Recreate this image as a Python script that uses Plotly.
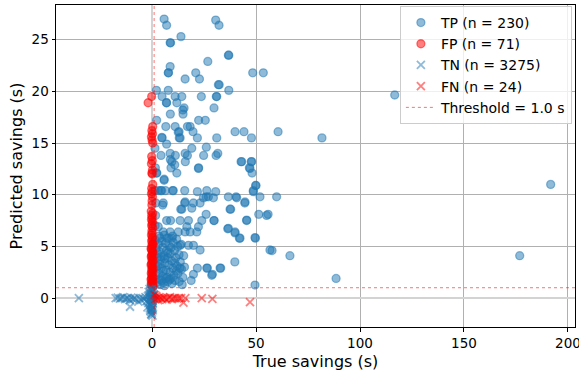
import plotly.graph_objects as go

# ---------------- data ----------------
threshold = 1.0
legend_labels = ["TP (n = 230)", "FP (n = 71)", "TN (n = 3275)", "FN (n = 24)",
                 "Threshold = 1.0 s"]
x_ticks = [0, 50, 100, 150, 200]
y_ticks = [0, 5, 10, 15, 20, 25]
x_range = [-46.2, 203.4]
y_range = [-2.8, 28.36]

# True positives (true savings, predicted savings)
tp_x = [5.8, 7.0, 30.6, 32.2, 13.9, 8.7, 8.9, 36.9, 36.7, 26.8, 8.7, 7.8, 7.9, 48.4, 53.5,
        21.0, 15.9, 22.8, 31.9, 32.3, 36.9, 2.1, 7.8, 4.8, 11.1, 14.3, 23.7, 30.9, 31.1,
        6.9, 7.0, 11.9, 15.4, 29.8, 8.8, 14.9, 2.2, 22.4, 25.6, 6.6, 11.1, 17.0, 18.3,
        13.0, 19.7, 39.9, 44.2, 60.6, 4.8, 13.1, 21.8, 31.1, 47.8, 81.7, 7.0, 4.3, 8.7,
        11.2, 15.9, 17.0, 19.1, 24.8, 26.1, 30.8, 31.6, 8.8, 9.5, 16.0, 10.9, 42.8, 47.7,
        9.1, 1.6, 22.4, 46.8, 11.9, 48.1, 2.1, 5.8, 14.8, 12.6, 13.5, 4.7, 116.7,
        49.8, 4.2, 6.4, 9.9, 15.7, 21.8, 26.0, 30.6, 48.7, 51.9, 59.9, 36.7, 40.4, 1.8,
        5.4, 15.7, 19.9, 27.1, 13.8, 23.1, 37.8, 44.6, 45.5, 51.3, 55.8, 26.0, 29.8, 36.4,
        39.9, 42.0, 49.7, 57.7, 66.3, 39.8, 33.0, 26.6, 21.8, 29.0, 19.9, 18.8, 49.5, 88.5,
        176.8, 191.7, 3.0, 4.6, 10.2, 22.3, 26.3, 50.0, 48.7, 5.8, 43.1, 47.9, 47.1,
        5.1, 15.9, 24.7, 29.5, 40.7, 14.3, 19.1, 37.5, 44.7, 7.0, 8.9, 13.5, 17.5, 23.9,
        29.8, 45.5, 55.1, 3.0, 16.7, 22.3, 5.4, 8.7, 12.6, 15.9, 18.3, 21.5, 36.7, 39.9,
        42.3, 49.5, 3.8, 7.1, 9.5, 13.5, 17.5, 19.9, 23.1, 56.7, 26.3, 28.7, 32.7,
        1.5, 2.0, 2.4, 2.8, 3.2, 3.6, 4.0, 1.8, 2.2, 3.0, 3.5, 4.1, 4.5, 5.0, 5.5, 6.0,
        4.8, 5.2, 5.8, 6.3, 6.8, 7.2, 7.6, 6.5, 7.0, 7.5, 8.1, 8.6, 9.1, 9.6, 8.3, 8.8,
        9.4, 10.0, 10.5, 11.0, 10.2, 10.8, 11.4, 12.0, 12.5, 13.1, 12.3, 13.0, 13.6,
        14.2, 14.8, 3.3, 5.9, 7.9, 9.9, 11.8, 14.0, 2.6, 4.3, 6.1, 7.7, 9.2, 10.9, 5.4,
        3.9, 8.4, 6.6, 4.7, 11.6, 13.4, 15.2, 15.6, 14.5, 1.7, 1.5, 1.3, 1.4, 1.9, 2.3]
tp_y = [27.0, 26.4, 26.9, 26.4, 25.3, 24.7, 24.7, 23.5, 23.5, 22.9, 22.4, 21.8, 21.8, 21.8,
        21.8, 21.8, 21.2, 21.2, 20.65, 20.65, 20.1, 20.1, 20.1, 19.5, 19.5, 19.5, 19.5,
        19.5, 19.5, 18.9, 18.9, 18.9, 18.4, 18.4, 17.8, 17.8, 17.2, 17.2, 17.2, 16.6,
        16.6, 16.6, 16.6, 16.1, 16.1, 16.1, 16.1, 16.1, 15.5, 15.5, 15.5, 15.5, 15.5, 15.5,
        14.9, 13.8, 14.0, 13.8, 14.0, 13.8, 14.5, 13.8, 14.6, 13.8, 14.0, 13.4, 13.2, 13.2,
        12.9, 13.2, 13.2, 12.6, 12.6, 12.6, 12.6, 12.1, 12.1, 12.1, 11.4, 18.2, 16.05,
        15.5, 15.55, 19.65,
        10.9, 10.4, 10.4, 10.4, 10.4, 10.3, 9.8, 10.3, 10.4, 9.8, 9.8, 9.8, 9.8, 9.2,
        9.2, 9.2, 9.2, 9.8, 8.6, 9.2, 8.6, 9.2, 7.5, 8.1, 8.1, 8.1, 7.5, 6.7,
        6.3, 5.8, 5.8, 4.6, 4.1, 3.5, 2.9, 2.9, 2.9, 2.3, 2.3, 1.7, 1.26, 1.9,
        4.1, 11.0, 10.4, 10.4, 10.4, 12.55, 10.4, 10.9, 10.3, 11.5, 13.2, 13.2, 12.55,
        9.0, 9.3, 9.7, 9.7, 9.7, 8.6, 8.7, 8.6, 9.3, 7.5, 7.5, 7.5, 7.5, 7.5,
        7.5, 7.55, 8.0, 6.9, 6.9, 6.9, 6.4, 6.4, 6.4, 6.4, 6.4, 6.4, 6.75, 6.4,
        5.8, 5.85, 5.8, 5.8, 5.8, 5.1, 5.1, 5.1, 4.65, 4.65, 2.9, 2.2, 2.9,
        5.6, 4.8, 3.9, 3.1, 2.4, 1.8, 1.3, 2.2, 1.5, 5.2, 4.5, 3.7, 2.9, 2.1, 1.5, 1.2,
        5.5, 4.9, 4.1, 3.4, 2.7, 2.0, 1.6, 5.3, 4.6, 3.9, 3.2, 2.5, 1.9, 1.4, 5.0, 4.3,
        3.6, 2.9, 2.2, 1.7, 5.4, 4.6, 3.9, 3.1, 2.4, 1.6, 5.0, 4.2, 3.5,
        2.8, 2.0, 6.0, 6.1, 5.8, 6.0, 5.7, 5.2, 4.3, 4.0, 3.8, 4.4, 4.9, 3.4, 2.6,
        3.3, 1.8, 1.9, 1.7, 2.6, 2.9, 4.1, 3.0, 1.3, 8.0, 7.0, 10.4, 14.5, 3.0, 12.1]

# False positives
fp_x = [-0.2, -1.9, 0.3, -0.1, 0.2, -0.3, 0.0, 0.3, -0.2, 0.1, -0.3, 0.2, -0.1, 0.3,
        -0.2, 0.1, -0.3, 0.2, 0.0, -0.1, 0.3, -0.2, 0.1, -0.3, 0.2, 0.0, -0.2, 0.3,
        -0.1, 0.1, -0.3, 0.2, 0.0, -0.2, 0.3, -0.1, 0.1, -0.3, 0.2, 0.0, -0.2, 0.3,
        -0.1, 0.1, -0.3, 0.2, 0.0, -0.2, 0.3, -0.1, 0.1, -0.3, 0.2, 0.0, -0.2, 0.3,
        0.5, -0.4, 0.4, -0.5, 0.5, -0.4, 0.4, -0.5, 0.5, -0.4, 0.4, -0.5, 0.5, -0.4, 0.1]
fp_y = [19.5, 18.9, 16.6, 16.2, 15.9, 15.6, 15.3, 15.0, 13.7, 13.3, 13.0, 12.4, 12.1,
        11.0, 10.6, 10.3, 10.1, 9.8, 9.4, 9.0, 8.2, 8.0, 7.8, 7.6, 7.4, 7.2, 7.0, 6.8,
        6.5, 6.3, 6.1, 5.9, 5.7, 5.5, 5.3, 5.1, 4.9, 4.7, 4.5, 4.3, 4.1, 3.9, 3.7, 3.5,
        3.3, 3.1, 2.9, 2.7, 2.5, 2.3, 2.1, 1.9, 1.7, 1.5, 1.3, 1.1,
        1.2, 1.4, 1.6, 1.8, 2.0, 2.4, 2.8, 3.2, 3.6, 4.0, 4.4, 4.8, 5.2, 8.4, 12.0]

# True negatives
tn_x = [-35.2, -17.5, -16.5, -15.5, -14.8, -13.9, -13.0, -12.2, -11.5, -10.8, -10.6,
        -10.0, -9.2, -8.5, -7.8, -6.6, -6.0, -5.2, -4.5, -3.8, -3.2, -2.6,
        -1.2, -0.5, 0.3, -0.9, 0.0, 0.6, -1.4, -0.3, 0.4, -1.0, -0.2, 0.5, -0.7, 0.2,
        -1.3, -0.4, 0.3, -0.9, 0.0, -0.6, 0.4, -1.1, -0.2, 0.3, -0.7, 0.0, -0.4, 0.2,
        -0.9, 0.1, -0.5, 0.7, -0.1, 0.8, 0.9, -2.0, -1.8, -2.2, -1.6, -0.3, 0.1, -0.8]
tn_y = [0.0, 0.0, 0.05, -0.05, 0.0, 0.1, -0.1, 0.0, 0.0, -0.2, -0.84,
        0.05, -0.1, 0.0, -0.1, -0.35, 0.0, -0.2, 0.0, -0.1, 0.1, -0.3,
        0.9, 0.8, 0.7, 0.6, 0.5, 0.4, 0.3, 0.3, 0.2, 0.1, 0.0, 0.0, -0.1, -0.2,
        -0.3, -0.4, -0.5, -0.6, -0.7, -0.8, -0.9, -1.0, -1.1, -1.2, -1.3, -1.4, -1.55, -1.7,
        -1.2, -0.3, 0.15, 0.65, 0.9, -0.1, 0.3, 0.2, -0.5, -0.9, 0.6, -1.6, -1.0, 0.4]

# False negatives
fn_x = [1.2, 1.6, 2.0, 2.5, 3.0, 3.6, 4.2, 4.9, 5.5, 6.3, 7.0, 7.8, 8.6, 9.5, 10.3,
        11.2, 12.1, 13.0, 14.0, 15.1, 16.0, 23.9, 29.0, 47.1]
fn_y = [0.3, -0.1, 0.2, 0.0, -0.2, 0.1, 0.0, -0.1, 0.05, 0.0, -0.15, 0.0, 0.1, -0.1,
        0.0, 0.0, -0.05, 0.0, 0.0, -0.45, 0.0, 0.0, -0.07, -0.4]

# ---------------- figure ----------------
BLUE_F = "rgba(31,119,180,0.5)"
RED_F = "rgba(255,0,0,0.5)"
FONT = "DejaVu Sans"

fig = go.Figure()
fig.add_trace(go.Scatter(x=tp_x, y=tp_y, mode="markers", name=legend_labels[0],
                         marker=dict(symbol="circle", size=8, color=BLUE_F,
                                     line=dict(color=BLUE_F, width=1.3))))
fig.add_trace(go.Scatter(x=fp_x, y=fp_y, mode="markers", name=legend_labels[1],
                         marker=dict(symbol="circle", size=8, color=RED_F,
                                     line=dict(color=RED_F, width=1.3))))
fig.add_trace(go.Scatter(x=tn_x, y=tn_y, mode="markers", name=legend_labels[2],
                         marker=dict(symbol="x-thin", size=8,
                                     line=dict(color=BLUE_F, width=1.8))))
fig.add_trace(go.Scatter(x=fn_x, y=fn_y, mode="markers", name=legend_labels[3],
                         marker=dict(symbol="x-thin", size=8,
                                     line=dict(color=RED_F, width=1.8))))
# threshold lines (horizontal + vertical), spanning the full axes
fig.add_trace(go.Scatter(
    x=[x_range[0], x_range[1], None, threshold, threshold],
    y=[threshold, threshold, None, y_range[0], y_range[1]],
    mode="lines", name=legend_labels[4],
    line=dict(color="rgba(255,0,0,0.7)", width=0.8, dash="dot")))

axis_common = dict(
    showline=True, linecolor="black", linewidth=1, mirror=True,
    showgrid=True, gridcolor="#b0b0b0", gridwidth=0.8,
    zeroline=True, zerolinecolor="#d3d3d3", zerolinewidth=2.2,
    ticks="outside", ticklen=3.5, tickwidth=0.8, tickcolor="black",
    tickfont=dict(family=FONT, size=13.5, color="black"),
    ticklabeloverflow="allow", automargin=False,
)
fig.update_xaxes(range=x_range, tickvals=x_ticks, **axis_common,
                 title=dict(text="True savings (s)", standoff=6,
                            font=dict(family=FONT, size=16, color="black")))
fig.update_yaxes(range=y_range, tickvals=y_ticks, **axis_common,
                 title=dict(text="Predicted savings (s)", standoff=5,
                            font=dict(family=FONT, size=16, color="black")))

fig.update_layout(
    width=579, height=372,
    margin=dict(l=56, r=4, t=5, b=45),
    plot_bgcolor="white", paper_bgcolor="white",
    font=dict(family=FONT, color="black"),
    legend=dict(x=0.994, y=0.997, xanchor="right", yanchor="top",
                bgcolor="rgba(255,255,255,0.8)", bordercolor="#cccccc", borderwidth=1,
                font=dict(family=FONT, size=14, color="black"),
                itemwidth=30, tracegroupgap=0, entrywidth=145),
    showlegend=True,
)

fig.write_html("out.html", config={"displayModeBar": False},
               post_script="document.body.style.margin='0';document.body.style.overflow='hidden';")
